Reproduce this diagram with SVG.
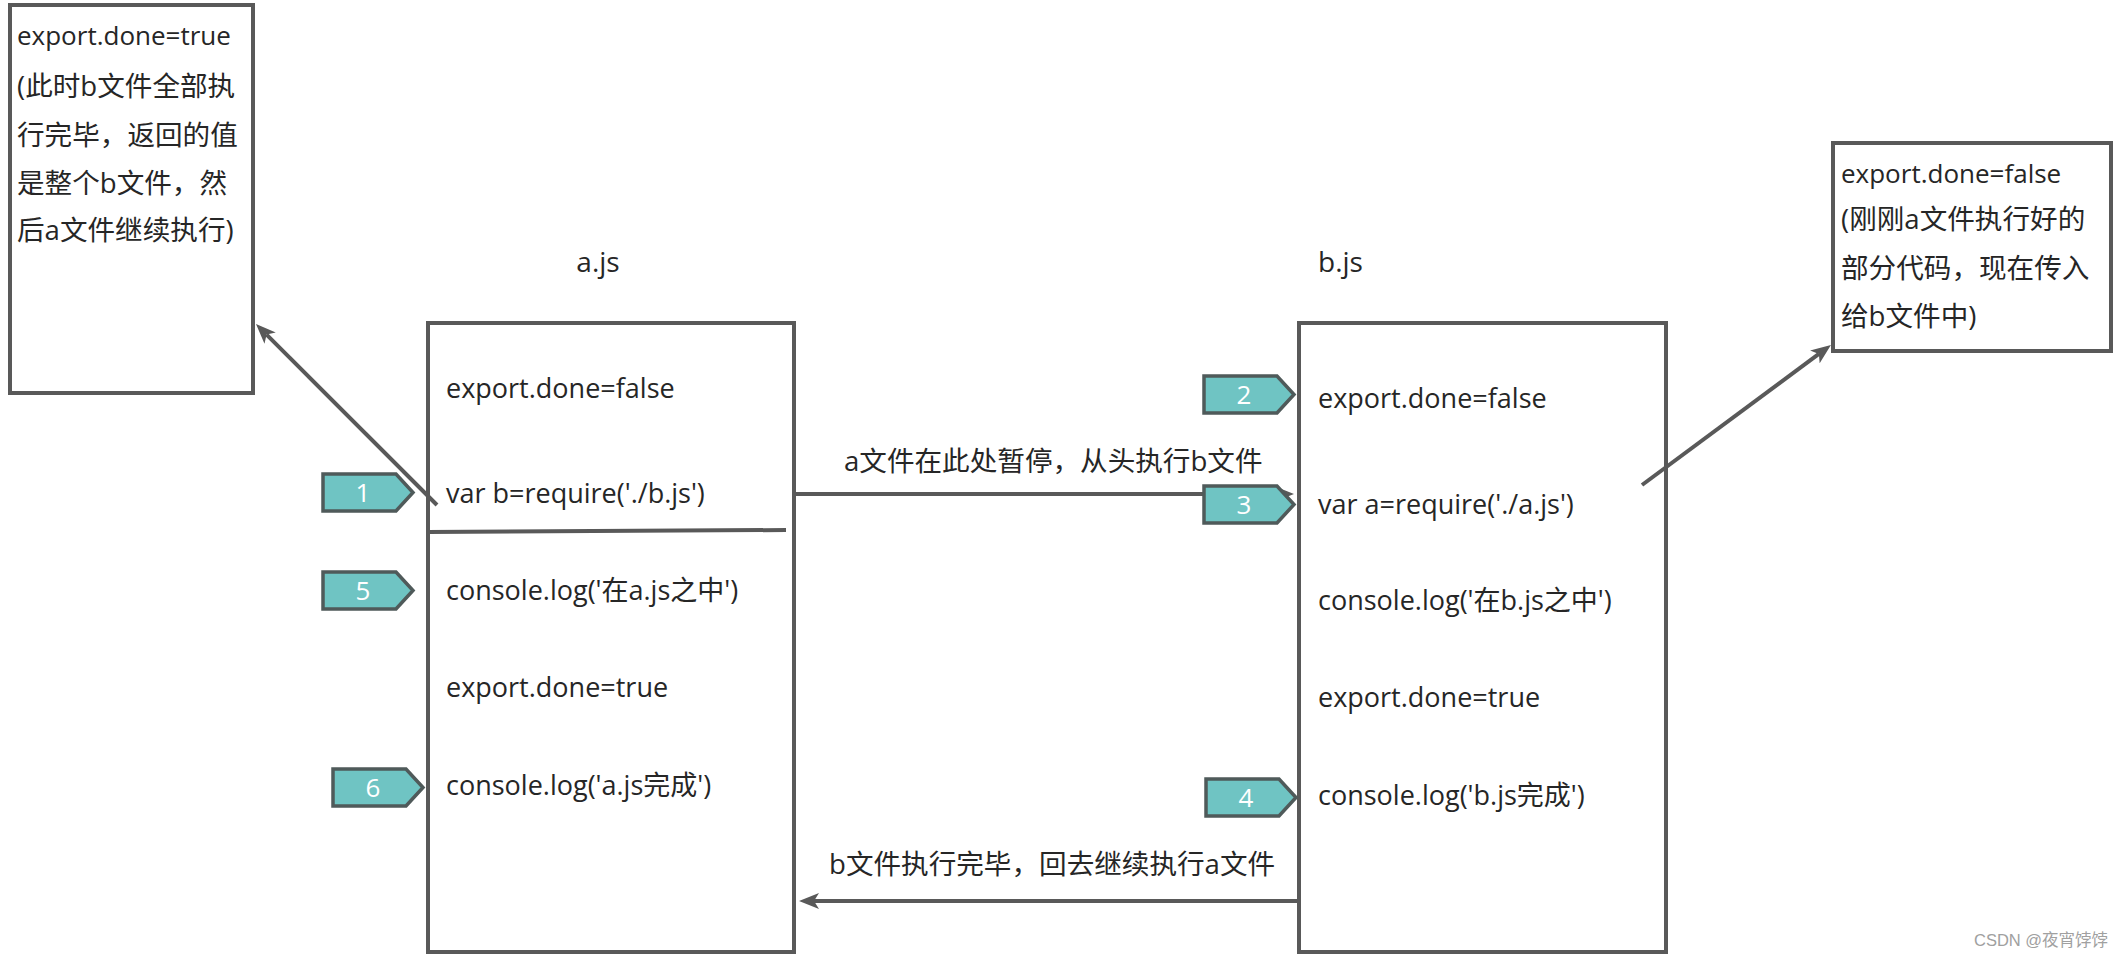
<svg xmlns="http://www.w3.org/2000/svg" width="2124" height="958" viewBox="0 0 2124 958">
  <defs>
    <style>
      .box { fill: #ffffff; stroke: #595959; stroke-width: 4; }
      .code { font-family: "Open Sans", "Noto Sans CJK SC", sans-serif; font-size: 27px; fill: #262626; }
      .note { font-family: "Open Sans", "Noto Sans CJK SC", sans-serif; font-size: 26px; fill: #262626; }
      .note-cjk { font-family: "Open Sans", "Noto Sans CJK SC", sans-serif; font-size: 27.6px; fill: #262626; }
      .title { font-family: "Open Sans", "Noto Sans CJK SC", sans-serif; font-size: 28px; fill: #262626; }
      .label { font-family: "Open Sans", "Noto Sans CJK SC", sans-serif; font-size: 27.6px; fill: #262626; }
      .edge { fill: none; stroke: #595959; stroke-width: 4; }
      .step { fill: #6fc4c3; stroke: #4f5a5a; stroke-width: 3.5; }
      .stepnum { font-family: "Open Sans", "Noto Sans", sans-serif; font-size: 26px; fill: #ffffff; text-anchor: middle; }
      .mark { font-family: "Liberation Sans", "Noto Sans CJK SC", sans-serif; font-size: 16.5px; fill: #a0a0a0; }
    </style>
    <marker id="arrow" viewBox="0 0 10 8" refX="2.5" refY="4" markerWidth="5" markerHeight="4" orient="auto" markerUnits="strokeWidth">
      <path d="M0,0 L10,4 L0,8 L2.5,4 z" fill="#595959"/>
    </marker>
  </defs>

  <rect width="2124" height="958" fill="#ffffff"/>

  <!-- note: value returned to a.js -->
  <g id="note-a">
    <rect class="box" x="10" y="5" width="243" height="388"/>
    <text class="note" x="17" y="45">export.done=true</text>
    <text class="note-cjk" x="17" y="96">(此时b文件全部执</text>
    <text class="note-cjk" x="17" y="145">行完毕，返回的值</text>
    <text class="note-cjk" x="17" y="193">是整个b文件，然</text>
    <text class="note-cjk" x="17" y="240">后a文件继续执行)</text>
  </g>

  <!-- note: partial export passed to b.js -->
  <g id="note-b">
    <rect class="box" x="1833" y="143" width="278" height="208"/>
    <text class="note" x="1841" y="183">export.done=false</text>
    <text class="note-cjk" x="1841" y="229">(刚刚a文件执行好的</text>
    <text class="note-cjk" x="1841" y="278">部分代码，现在传入</text>
    <text class="note-cjk" x="1841" y="326">给b文件中)</text>
  </g>

  <!-- a.js -->
  <g id="a-js">
    <text class="title" x="598" y="272" text-anchor="middle">a.js</text>
    <rect class="box" x="428" y="323" width="366" height="629"/>
    <path class="edge" d="M428,532 L786,530"/>
    <text class="code" x="446" y="398">export.done=false</text>
    <text class="code" x="446" y="503">var b=require('./b.js')</text>
    <text class="code" x="446" y="600">console.log('在a.js之中')</text>
    <text class="code" x="446" y="697">export.done=true</text>
    <text class="code" x="446" y="795">console.log('a.js完成')</text>
  </g>

  <!-- b.js -->
  <g id="b-js">
    <text class="title" x="1318" y="272">b.js</text>
    <rect class="box" x="1299" y="323" width="367" height="629"/>
    <text class="code" x="1318" y="408">export.done=false</text>
    <text class="code" x="1318" y="514">var a=require('./a.js')</text>
    <text class="code" x="1318" y="610">console.log('在b.js之中')</text>
    <text class="code" x="1318" y="707">export.done=true</text>
    <text class="code" x="1318" y="805">console.log('b.js完成')</text>
  </g>

  <!-- connectors -->
  <g id="connectors">
    <path class="edge" d="M437,505 L266.6,334.6" marker-end="url(#arrow)"/>
    <path class="edge" d="M1642,485 L1818.9,353.9" marker-end="url(#arrow)"/>
    <path class="edge" d="M796,494 L1279,494" marker-end="url(#arrow)"/>
    <path class="edge" d="M1297,901 L814,901" marker-end="url(#arrow)"/>
    <text class="label" x="844" y="471">a文件在此处暂停，从头执行b文件</text>
    <text class="label" x="829" y="874">b文件执行完毕，回去继续执行a文件</text>
  </g>

  <!-- execution order markers -->
  <g id="step-1">
    <path class="step" d="M323,474 h73 l17,18.5 l-17,18.5 h-73 z"/>
    <text class="stepnum" x="363" y="502">1</text>
  </g>
  <g id="step-2">
    <path class="step" d="M1204,376 h73 l17,18.5 l-17,18.5 h-73 z"/>
    <text class="stepnum" x="1244" y="404">2</text>
  </g>
  <g id="step-3">
    <path class="step" d="M1204,486 h73 l17,18.5 l-17,18.5 h-73 z"/>
    <text class="stepnum" x="1244" y="514">3</text>
  </g>
  <g id="step-4">
    <path class="step" d="M1206,779 h73 l17,18.5 l-17,18.5 h-73 z"/>
    <text class="stepnum" x="1246" y="807">4</text>
  </g>
  <g id="step-5">
    <path class="step" d="M323,572 h73 l17,18.5 l-17,18.5 h-73 z"/>
    <text class="stepnum" x="363" y="600">5</text>
  </g>
  <g id="step-6">
    <path class="step" d="M333,769 h73 l17,18.5 l-17,18.5 h-73 z"/>
    <text class="stepnum" x="373" y="797">6</text>
  </g>

  <text class="mark" x="1974" y="946">CSDN @夜宵饽饽</text>
</svg>
